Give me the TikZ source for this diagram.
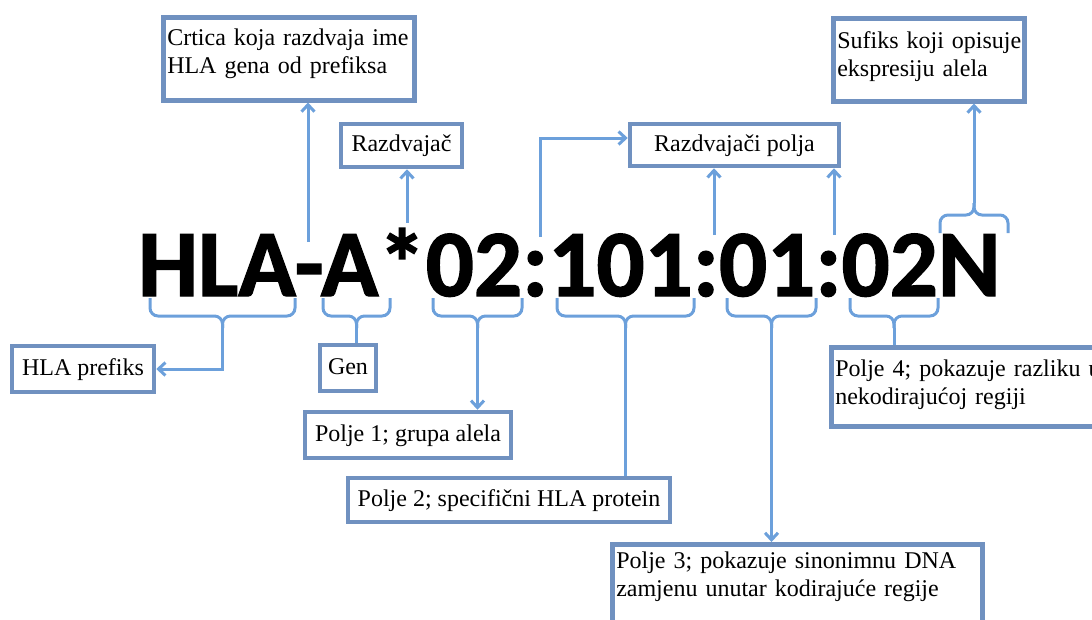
\documentclass[tikz,border=0pt]{standalone}
\usepackage{fontspec}
\setmainfont{Liberation Serif}
\newfontfamily\codefont{Carlito}[BoldFeatures={FakeBold=1.5}]
\usetikzlibrary{arrows.meta}
\definecolor{boxblue}{RGB}{112,145,192}
\definecolor{lineblue}{RGB}{108,160,219}

\begin{document}
\begin{tikzpicture}[x=1pt, y=-1pt]
    \tikzstyle{box} = [rectangle, draw=boxblue, line width=4.5pt, fill=white, font=\fontsize{24}{28}\selectfont, text height=17pt, text depth=5pt, inner sep=0pt]
    \tikzstyle{note} = [box, anchor=north west, align=left, inner xsep=4pt, inner ysep=5pt]
    \tikzstyle{arrow} = [->, >={Straight Barb[length=7pt, width=13pt]}, draw=lineblue, line width=3pt]
    \tikzstyle{link} = [draw=lineblue, line width=3pt]
    \tikzstyle{brace} = [link, rounded corners=8pt]
    \useasboundingbox (0,0) rectangle (1092,619);
    \clip (0,0) rectangle (1092,619);
    % the allele name
    \node[anchor=base west, inner sep=0pt, font=\codefont\bfseries\fontsize{95}{95}\selectfont] (code) at (138,296) {HLA-A*02:101:01:02N};
    % labels
    \node[note, text width=243pt, text height=23pt, text depth=50pt] (crtica) at (161,15) {Crtica~koja~razdvaja~ime\\HLA~gena~od~prefiksa};
    \node[note, text width=183pt, text height=25pt, text depth=48pt] (sufiks) at (831,16) {Sufiks~koji~opisuje\\ekspresiju~alela};
    \node[box, minimum width=121pt, minimum height=43pt] (razd) at (401.5,145.5) {Razdvajač};
    \node[box, minimum width=209pt, minimum height=42pt] (polja) at (734.5,145) {Razdvajači polja};
    \node[box, minimum width=142pt, minimum height=46pt] (prefiks) at (83,369) {HLA prefiks};
    \node[box, minimum width=56pt, minimum height=46pt] (gen) at (348,368) {Gen};
    \node[box, minimum width=206pt, minimum height=46pt] (polje1) at (408,435) {Polje 1; grupa alela};
    \node[box, minimum width=322pt, minimum height=44pt] (polje2) at (509,500) {Polje 2; specifični HLA protein};
    \node[note, text width=362pt, text height=19pt, text depth=60pt] (polje3) at (610,542) {Polje~3;~pokazuje~sinonimnu~DNA\\zamjenu~unutar~kodirajuće~regije};
    \node[note, text width=282pt, text height=24pt, text depth=45pt] (polje4) at (829,345) {Polje~4;~pokazuje~razliku~u\\nekodirajućoj~regiji};
    % braces under the fields
    \foreach \nm/\xa/\xb in {hla/150/295, gen/323/390, f1/433/522, f2/557/694, f3/727/816, f4/850/938} {
        \draw[brace] (\xa,298) -- (\xa,316) -- ({(\xa+\xb)/2},316) -- ({(\xa+\xb)/2},328) coordinate (b\nm);
        \draw[brace] (\xb,298) -- (\xb,316) -- ({(\xa+\xb)/2},316) -- ({(\xa+\xb)/2},328);
    }
    \draw[brace] (940,233) -- (940,215) -- (974,215) -- (974,203) coordinate (bsuf);
    \draw[brace] (1008,233) -- (1008,215) -- (974,215) -- (974,203);
    % points on the name
    \coordinate (dash) at (308,242);
    \coordinate (star) at (407,223);
    \coordinate (sepa) at (540,237);
    \coordinate (bend) at (540,138);
    \coordinate (sepb) at (714,235);
    \coordinate (sepc) at (834,235);
    % connectors
    \draw[arrow] (dash) -- (dash |- crtica.south);
    \draw[arrow] (star) -- (star |- razd.south);
    \draw[arrow] (sepa) -- (bend) -- (bend -| polja.west);
    \draw[arrow] (sepb) -- (sepb |- polja.south);
    \draw[arrow] (sepc) -- (sepc |- polja.south);
    \draw[arrow] (bsuf) -- (bsuf |- sufiks.south);
    \draw[arrow] (bhla) |- (prefiks.east);
    \draw[link] (bgen) -- (bgen |- gen.north);
    \draw[arrow] (bf1) -- (bf1 |- polje1.north);
    \draw[link] (bf2) -- (bf2 |- polje2.north);
    \draw[arrow] (bf3) -- (bf3 |- polje3.north);
    \draw[link] (bf4) -- (bf4 |- polje4.north);
\end{tikzpicture}
\end{document}
